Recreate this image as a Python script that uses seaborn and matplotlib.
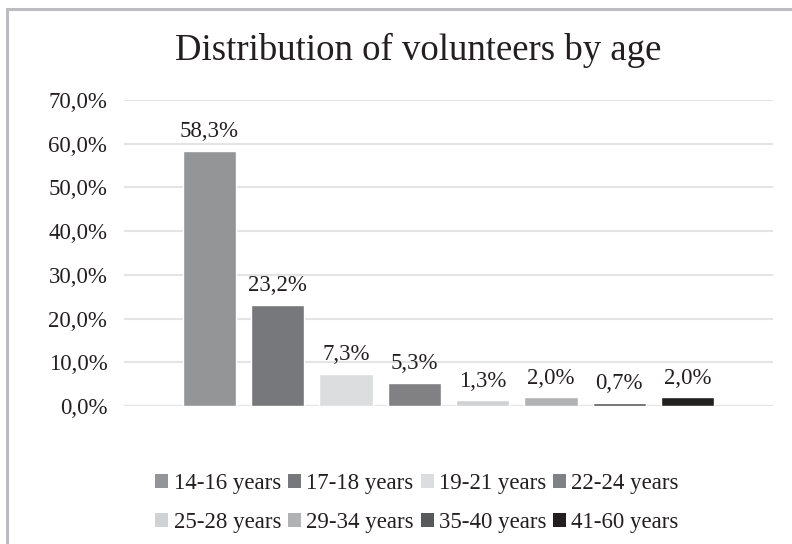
import matplotlib
matplotlib.use("Agg")
import matplotlib.pyplot as plt
from matplotlib.patches import Patch, Rectangle
import seaborn as sns
import pandas as pd

age_groups = ["14-16 years", "17-18 years", "19-21 years", "22-24 years",
              "25-28 years", "29-34 years", "35-40 years", "41-60 years"]
shares = [58.3, 23.2, 7.3, 5.3, 1.3, 2.0, 0.7, 2.0]
bar_colors = ["#939598", "#77787b", "#dcdddf", "#808184",
              "#d1d2d4", "#b1b2b4", "#58595b", "#231f20"]
y_ticks = [0, 10, 20, 30, 40, 50, 60, 70]

sns.set_theme(style="white")
plt.rcParams["font.family"] = ["Liberation Serif", "DejaVu Serif"]

text_color = "#231f20"
df = pd.DataFrame({"group": age_groups, "share": shares})

fig = plt.figure(figsize=(7.92, 5.44), dpi=100)
ax = fig.add_axes([124 / 792, 1 - 406 / 544, (773 - 124) / 792, (406 - 100) / 544])

sns.barplot(data=df, x="group", y="share", hue="group", palette=bar_colors,
            order=age_groups, hue_order=age_groups, width=0.78,
            legend=False, ax=ax, zorder=3)

ax.set_xlim(-1.25, 8.25)
ax.set_ylim(0, 70)
ax.set_yticks(y_ticks)
ax.set_yticklabels([f"{v:.1f}".replace(".", ",") + "%" for v in y_ticks],
                   fontsize=16.5, color=text_color)
ax.tick_params(axis="y", length=0, pad=12)
ax.set_xticks([])
ax.set_xlabel("")
ax.set_ylabel("")
for s in ax.spines.values():
    s.set_visible(False)
ax.grid(axis="y", color="#e4e4e4", linewidth=1.5, zorder=0)
ax.axhline(0, color="#e4e4e4", linewidth=1.5, zorder=1)

for i, v in enumerate(shares):
    ax.text(i, v + 2.0, f"{v:.1f}".replace(".", ",") + "%", ha="center",
            va="bottom", fontsize=16.5, color=text_color)

fig.text(418 / 792, 1 - 50 / 544, "Distribution of volunteers by age", ha="center",
         va="center", fontsize=26.5, color=text_color)

# legend reads row by row: reorder for matplotlib's column-major fill
handles = [Patch(facecolor=c, edgecolor="none", label=g)
           for g, c in zip(age_groups, bar_colors)]
ncol = 4
ordered = [handles[r * ncol + c] for c in range(ncol) for r in range(2)]
fig.legend(handles=ordered, ncol=ncol, loc="center",
           bbox_to_anchor=(417 / 792, 1 - 503 / 544),
           frameon=False, fontsize=16.5, handlelength=0.57, handleheight=0.57,
           handletextpad=0.22, columnspacing=0.3, labelspacing=0.8,
           labelcolor=text_color)

fig.patches.append(Rectangle((7 / 792, -0.05), 1.2, 1 - 9 / 544 + 0.05,
                             transform=fig.transFigure, fill=False,
                             edgecolor="#bcbcc0", linewidth=2.2))

fig.savefig("out.png", dpi=100)
